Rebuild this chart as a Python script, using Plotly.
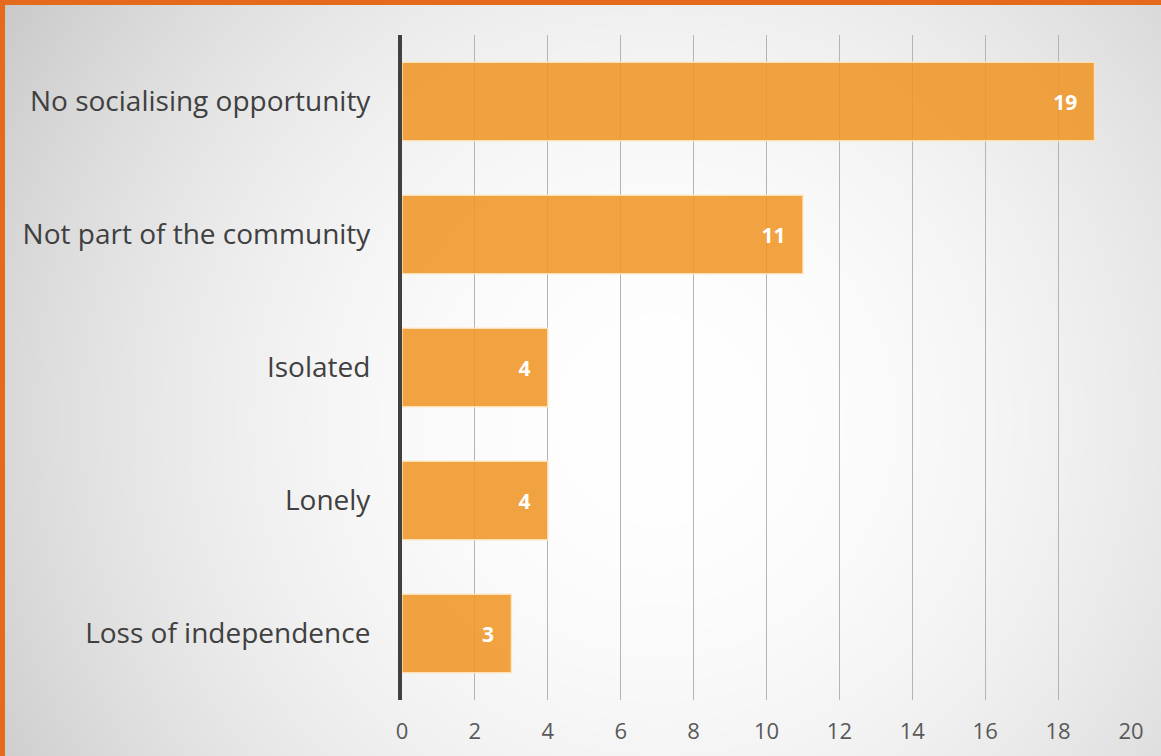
import base64
import struct
import zlib

import numpy as np
import plotly.graph_objects as go

# Survey responses: reasons given, with counts
categories = [
    "No socialising opportunity",
    "Not part of the community",
    "Isolated",
    "Lonely",
    "Loss of independence",
]
counts = [19, 11, 4, 4, 3]
x_ticks = [0, 2, 4, 6, 8, 10, 12, 14, 16, 18, 20]

W, H = 1161, 756


def png_data_uri(rgb):
    """Encode an HxWx3 uint8 array as a PNG data URI."""
    h, w, _ = rgb.shape
    raw = b"".join(b"\x00" + rgb[i].tobytes() for i in range(h))

    def chunk(tag, data):
        c = struct.pack(">I", len(data)) + tag + data
        return c + struct.pack(">I", zlib.crc32(tag + data) & 0xFFFFFFFF)

    png = b"\x89PNG\r\n\x1a\n"
    png += chunk(b"IHDR", struct.pack(">IIBBBBB", w, h, 8, 2, 0, 0, 0))
    png += chunk(b"IDAT", zlib.compress(raw, 9))
    png += chunk(b"IEND", b"")
    return "data:image/png;base64," + base64.b64encode(png).decode()


# Slide-style backdrop: soft radial grey gradient with an orange frame edge
yy, xx = np.mgrid[0:H, 0:W].astype(float)
cx, cy, R = 660.0, 420.0, 780.0
t = np.clip(np.sqrt((xx - cx) ** 2 + (yy - cy) ** 2) / R, 0, 1.05)
grey = np.clip(255 - 54 * t ** 2, 0, 255)
bg = np.stack([grey, grey, grey], axis=-1).astype(np.uint8)
frame = np.array([230, 106, 30], dtype=np.uint8)
bg[:5, :, :] = frame
bg[:, :5, :] = frame
bg_uri = png_data_uri(bg)

fig = go.Figure()
fig.add_trace(
    go.Bar(
        y=categories,
        x=counts,
        orientation="h",
        marker=dict(
            color="rgba(239,150,40,0.88)",
            line=dict(color="rgba(255,228,190,0.9)", width=1.5),
        ),
        # trailing non-breaking spaces keep the value inset from the bar end
        texttemplate="<b>%{x}</b>\u00a0\u00a0\u2009",
        textposition="inside",
        insidetextanchor="end",
        textfont=dict(family="Open Sans", size=21, color="white"),
        cliponaxis=False,
        hoverinfo="skip",
    )
)

fig.update_layout(
    width=W,
    height=H,
    margin=dict(l=402, r=30, t=35, b=56),
    paper_bgcolor="rgba(0,0,0,0)",
    plot_bgcolor="rgba(0,0,0,0)",
    bargap=0.41,
    showlegend=False,
    font=dict(family="Open Sans", color="#404040"),
    images=[
        dict(
            source=bg_uri,
            xref="paper",
            yref="paper",
            x=-402 / (W - 432),
            y=1 + 35 / (H - 91),
            sizex=W / (W - 432),
            sizey=H / (H - 91),
            xanchor="left",
            yanchor="top",
            sizing="stretch",
            layer="below",
        )
    ],
    xaxis=dict(
        range=[0, 20],
        tickvals=x_ticks,
        ticktext=[str(v) for v in x_ticks],
        showgrid=True,
        gridcolor="#B4B4B4",
        gridwidth=1,
        zeroline=False,
        showline=False,
        ticks="",
        ticklabelstandoff=16,
        tickfont=dict(family="Open Sans", size=22, color="#595959"),
    ),
    yaxis=dict(
        categoryorder="array",
        categoryarray=categories,
        autorange="reversed",
        showgrid=False,
        zeroline=False,
        showline=True,
        linecolor="#404040",
        linewidth=4,
        ticks="",
        ticklabelstandoff=22,
        tickfont=dict(family="Open Sans", size=28, color="#404040"),
    ),
)

fig.write_html("out.html")
